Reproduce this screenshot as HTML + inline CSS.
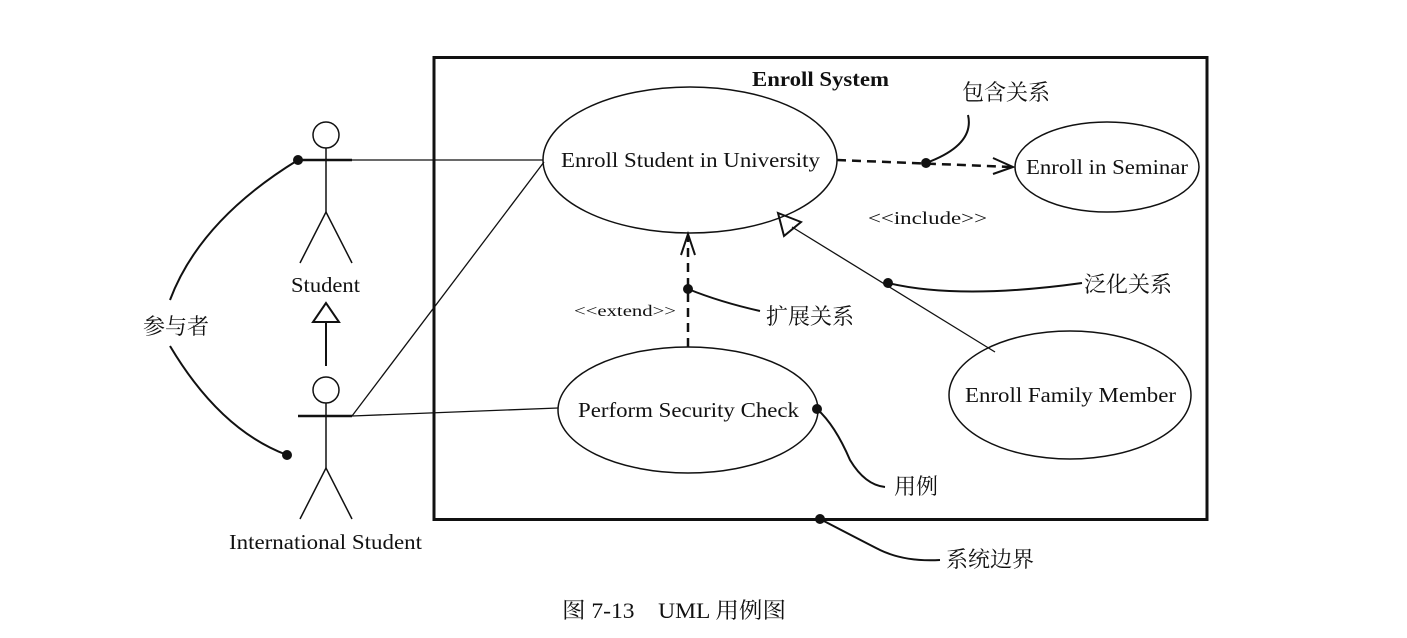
<!DOCTYPE html>
<html><head><meta charset="utf-8"><style>body{margin:0;background:#fff}svg{display:block}text{font-family:"Liberation Serif","Noto Serif CJK SC",serif;fill:#111}</style></head><body>
<svg width="1407" height="638" viewBox="0 0 1407 638" xmlns="http://www.w3.org/2000/svg">
<g fill="none" stroke="#111">
<rect x="434" y="57.5" width="773" height="462" stroke-width="3"/>
<ellipse cx="690" cy="160" rx="147" ry="73" stroke-width="1.5"/>
<ellipse cx="1107" cy="167" rx="92" ry="45" stroke-width="1.5"/>
<ellipse cx="688" cy="410" rx="130" ry="63" stroke-width="1.5"/>
<ellipse cx="1070" cy="395" rx="121" ry="64" stroke-width="1.5"/>
<circle cx="326" cy="135" r="13" stroke-width="1.5"/>
<line x1="326" y1="148" x2="326" y2="212" stroke-width="1.5"/>
<line x1="298" y1="160" x2="352" y2="160" stroke-width="2.5"/>
<path d="M300 263 L326 212 L352 263" stroke-width="1.5"/>
<path d="M326 303 L313 322 L339 322 Z" stroke-width="2"/>
<line x1="326" y1="322" x2="326" y2="366" stroke-width="2"/>
<circle cx="326" cy="390" r="13" stroke-width="1.5"/>
<line x1="326" y1="403" x2="326" y2="468" stroke-width="1.5"/>
<line x1="298" y1="416" x2="352" y2="416" stroke-width="2.5"/>
<path d="M300 519 L326 468 L352 519" stroke-width="1.5"/>
<line x1="352" y1="160" x2="543" y2="160" stroke-width="1.3"/>
<line x1="352" y1="416" x2="544" y2="162" stroke-width="1.3"/>
<line x1="352" y1="416" x2="558" y2="408" stroke-width="1.3"/>
<line x1="837" y1="160" x2="1012" y2="167" stroke-width="2.5" stroke-dasharray="9,6"/>
<path d="M993 158 L1013 167 L993 174" stroke-width="2"/>
<line x1="688" y1="347" x2="688" y2="236" stroke-width="2.5" stroke-dasharray="9,6"/>
<path d="M681 255 L688 234 L695 255" stroke-width="2"/>
<line x1="995" y1="352" x2="792" y2="227" stroke-width="1.3"/>
<path d="M778 213 L801 222 L784 236 Z" stroke-width="2"/>
<path d="M298 160 Q200 220 170 300" stroke-width="2"/>
<path d="M170 346 Q220 430 287 455" stroke-width="2"/>
<path d="M926 163 Q975 145 968 115" stroke-width="2"/>
<path d="M888 283 Q960 300 1082 283" stroke-width="2"/>
<path d="M688 289 Q720 302 760 311" stroke-width="2"/>
<path d="M817 409 Q835 425 850 460 Q865 485 885 487" stroke-width="2"/>
<path d="M820 519 Q870 545 880 550 Q905 562 940 560" stroke-width="2"/>
</g>
<g fill="#111">
<circle cx="298" cy="160" r="5"/><circle cx="287" cy="455" r="5"/>
<circle cx="926" cy="163" r="5"/><circle cx="888" cy="283" r="5"/>
<circle cx="688" cy="289" r="5"/><circle cx="817" cy="409" r="5"/>
<circle cx="820" cy="519" r="5"/>
</g>
<g font-size="21" lengthAdjust="spacingAndGlyphs">
<text x="752" y="86" font-weight="bold" textLength="137" lengthAdjust="spacingAndGlyphs">Enroll System</text>
<text x="561" y="167" textLength="259" lengthAdjust="spacingAndGlyphs">Enroll Student in University</text>
<text x="1026" y="174" textLength="162" lengthAdjust="spacingAndGlyphs">Enroll in Seminar</text>
<text x="578" y="417" textLength="221" lengthAdjust="spacingAndGlyphs">Perform Security Check</text>
<text x="965" y="402" textLength="211" lengthAdjust="spacingAndGlyphs">Enroll Family Member</text>
<text x="291" y="292" textLength="69" lengthAdjust="spacingAndGlyphs">Student</text>
<text x="229" y="549" textLength="193" lengthAdjust="spacingAndGlyphs">International Student</text>
<text x="868" y="224" font-size="18" textLength="119" lengthAdjust="spacingAndGlyphs">&lt;&lt;include&gt;&gt;</text>
<text x="574" y="316" font-size="16" textLength="102" lengthAdjust="spacingAndGlyphs">&lt;&lt;extend&gt;&gt;</text>
</g>
<g font-size="22">
<text x="143" y="334">参与者</text>
<text x="962" y="100">包含关系</text>
<text x="1084" y="292">泛化关系</text>
<text x="766" y="324">扩展关系</text>
<text x="894" y="494">用例</text>
<text x="946" y="567">系统边界</text>
<text x="562" y="618" textLength="224" lengthAdjust="spacingAndGlyphs">图 7-13　UML 用例图</text>
</g>
</svg>
</body></html>
